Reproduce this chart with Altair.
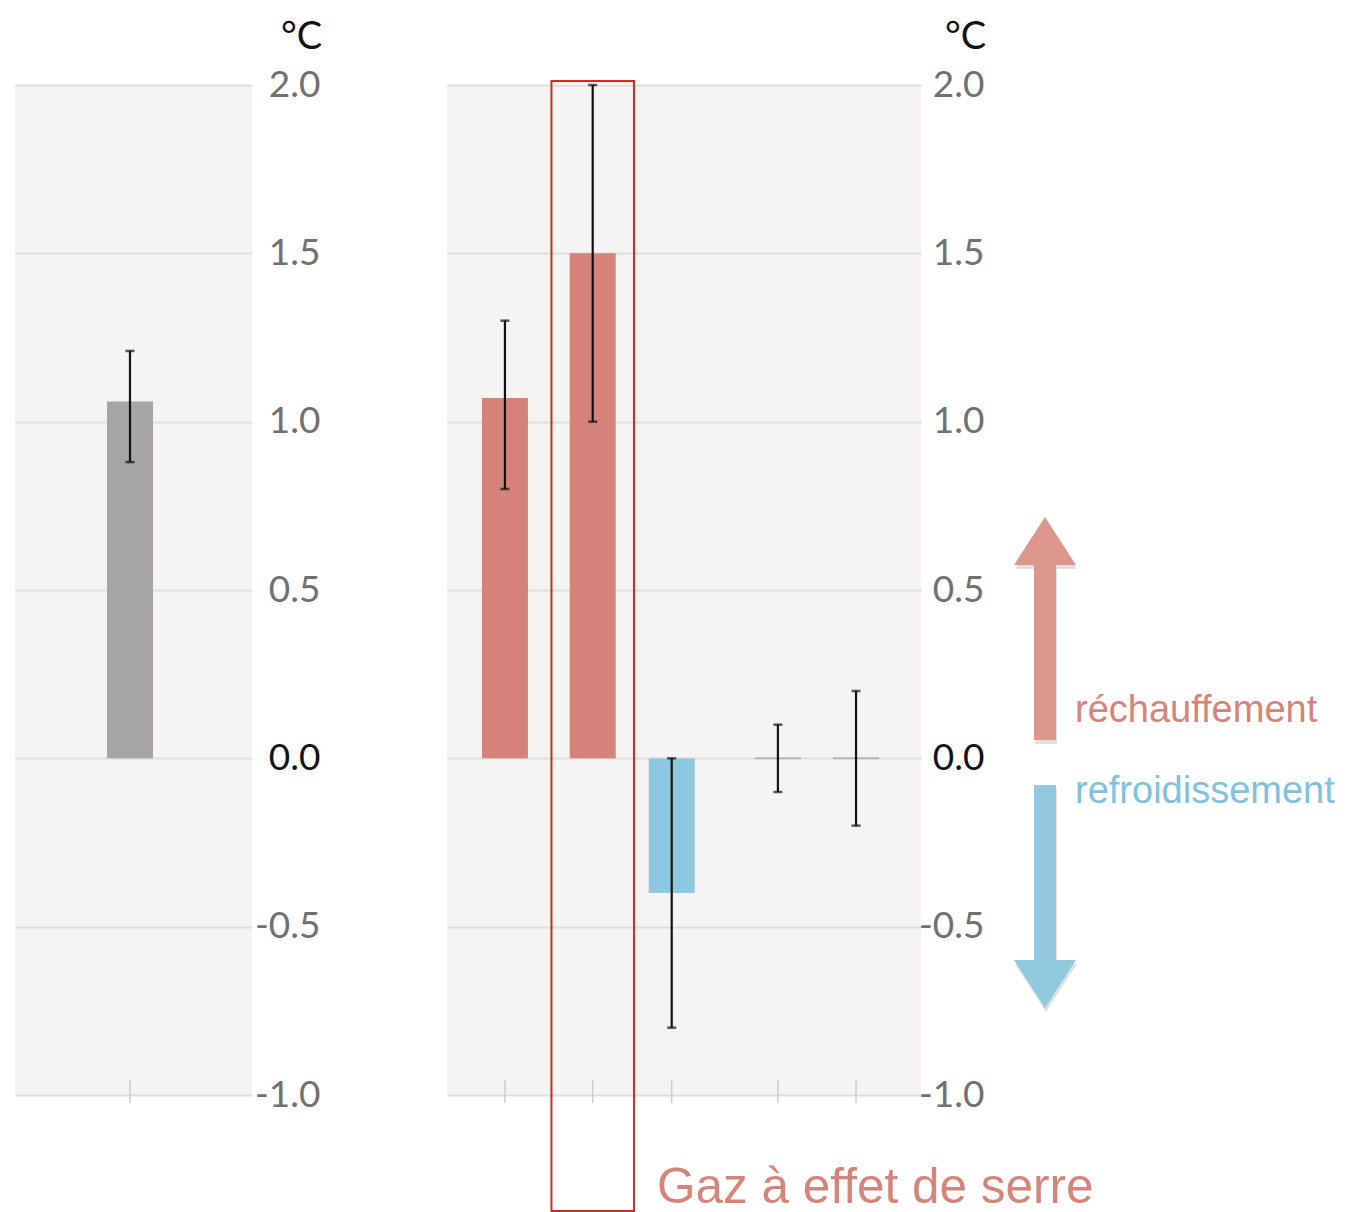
import altair as alt
import pandas as pd

# Observed warming, 2010-2019 vs 1850-1900 (left panel)
obs_label = ["Réchauffement observé"]
obs_value = [1.06]
obs_low = [0.88]
obs_high = [1.21]

# Contributions by driver (right panel)
drivers = [
    "Influence humaine totale",
    "Gaz à effet de serre",
    "Autres facteurs humains",
    "Facteurs naturels",
    "Variabilité interne",
]
driver_value = [1.07, 1.5, -0.4, 0.0, 0.0]
driver_low = [0.8, 1.0, -0.8, -0.1, -0.2]
driver_high = [1.3, 2.0, 0.0, 0.1, 0.2]

y_ticks = [-1.0, -0.5, 0.0, 0.5, 1.0, 1.5, 2.0]

# ---- layout / style ----
PLOT_H = 1010
LEFT_W, RIGHT_W = 237, 474
LEFT_DOMAIN, RIGHT_DOMAIN = [0, 2.70], [0, 5.40]
slot = {
    "Réchauffement observé": 1.31,
    "Influence humaine totale": 0.66,
    "Gaz à effet de serre": 1.66,
    "Autres facteurs humains": 2.56,
    "Facteurs naturels": 3.77,
    "Variabilité interne": 4.66,
}
bar_color = {
    "Réchauffement observé": "#a5a5a5",
    "Influence humaine totale": "#d4827a",
    "Gaz à effet de serre": "#d4827a",
    "Autres facteurs humains": "#8cc8e0",
    "Facteurs naturels": "#a5a5a5",
    "Variabilité interne": "#a5a5a5",
}
RED_TXT = "#d5847b"
BLUE_TXT = "#80c1dc"


def frame(names, vals, lows, highs):
    return pd.DataFrame({
        "name": names,
        "value": vals,
        "low": lows,
        "high": highs,
        "pos": [slot[n] for n in names],
    })


def y_axis(label_pad):
    return alt.Axis(
        orient="right",
        values=y_ticks,
        labelExpr="replace(format(datum.value, '.1f'), '\u2212', '-')",
        labelFont="Lato",
        labelFontSize=37,
        labelColor=alt.condition("datum.value == 0", alt.value("#111111"), alt.value("#707070")),
        labelAlign="right",
        labelBaseline="middle",
        labelPadding=label_pad,
        ticks=False,
        tickSize=0,
        domain=False,
        grid=True,
        gridColor="#dedede",
        gridWidth=2,
        title="°C",
        titleAngle=0,
        titleFont="Lato",
        titleFontSize=38,
        titleFontWeight="normal",
        titleColor="#111111",
        titleAlign="center",
        titleBaseline="alphabetic",
        titleX=label_pad - 19,
        titleY=-37,
    )


Y_SCALE = alt.Scale(domain=[-1, 2], nice=False, zero=False, padding=0)


def x_scale(domain):
    return alt.Scale(domain=domain, nice=False, zero=False, padding=0)


def panel(df, domain, label_pad):
    x = alt.X("pos:Q", scale=x_scale(domain), axis=None)
    ax = y_axis(label_pad)
    base = alt.Chart(df)

    def Y(field):
        return alt.Y(field, scale=Y_SCALE, axis=ax)

    bars = base.mark_bar(size=46, orient="vertical").encode(
        x=x,
        y=Y("value:Q"),
        y2=alt.datum(0),
        color=alt.Color("name:N", scale=alt.Scale(domain=list(bar_color), range=list(bar_color.values())), legend=None),
    )
    zero_bars = base.transform_filter("datum.value == 0").mark_tick(
        orient="horizontal", size=46, thickness=2, color="#a3a3a3"
    ).encode(x=x, y=Y("value:Q"))
    err = base.mark_rule(color="#111111", strokeWidth=2.2).encode(
        x=x, y=Y("low:Q"), y2="high:Q"
    )
    cap_lo = base.mark_tick(orient="horizontal", size=9, thickness=2.5, color="#111111").encode(
        x=x, y=Y("low:Q")
    )
    cap_hi = base.mark_tick(orient="horizontal", size=9, thickness=2.5, color="#111111").encode(
        x=x, y=Y("high:Q")
    )
    xticks = base.mark_rule(color="#cccccc", strokeWidth=1.5).encode(
        x=x, y=alt.value(PLOT_H - 15), y2=alt.value(PLOT_H + 8)
    )
    return [bars, zero_bars, xticks, err, cap_lo, cap_hi]


left_df = frame(obs_label, obs_value, obs_low, obs_high)
right_df = frame(drivers, driver_value, driver_low, driver_high)

left = alt.layer(*panel(left_df, LEFT_DOMAIN, 68)).properties(width=LEFT_W, height=PLOT_H)

right_layers = panel(right_df, RIGHT_DOMAIN, 63)

# Highlight box around the greenhouse-gas column
ghg = right_df[right_df["name"] == "Gaz à effet de serre"]
box = alt.Chart(ghg).transform_calculate(
    lo="datum.pos - 0.47", hi="datum.pos + 0.47"
).mark_rect(fillOpacity=0, stroke="#d42a1c", strokeWidth=2).encode(
    x=alt.X("lo:Q", scale=x_scale(RIGHT_DOMAIN), axis=None),
    x2="hi:Q",
    y=alt.value(-4),
    y2=alt.value(1126),
)
ghg_text = alt.Chart(ghg).mark_text(
    text="Gaz à effet de serre", font="Liberation Sans", fontSize=49.5,
    color=RED_TXT, align="left", baseline="alphabetic"
).encode(x=alt.value(210), y=alt.value(1118))

# Warming / cooling arrows
UP = "M0,-3.6L1,-2.05L0.355,-2.05L0.355,3.6L-0.355,3.6L-0.355,-2.05L-1,-2.05Z"
DOWN = "M0,3.6L1,2.05L0.355,2.05L0.355,-3.6L-0.355,-3.6L-0.355,2.05L-1,2.05Z"
one = pd.DataFrame({"k": [0]})


def arrow(path, color, cy):
    shadow = alt.Chart(one).mark_point(
        shape=path, filled=True, size=3844, color="#000000", opacity=0.12, strokeWidth=0
    ).encode(x=alt.value(599), y=alt.value(cy + 4))
    body = alt.Chart(one).mark_point(
        shape=path, filled=True, size=3844, color=color, opacity=1, strokeWidth=0
    ).encode(x=alt.value(598), y=alt.value(cy))
    return [shadow, body]


warm_txt = alt.Chart(one).mark_text(
    text="réchauffement", font="Liberation Sans", fontSize=38,
    color=RED_TXT, align="left", baseline="alphabetic"
).encode(x=alt.value(628), y=alt.value(637))
cool_txt = alt.Chart(one).mark_text(
    text="refroidissement", font="Liberation Sans", fontSize=38,
    color=BLUE_TXT, align="left", baseline="alphabetic"
).encode(x=alt.value(628), y=alt.value(718))

right = alt.layer(
    *right_layers,
    box,
    ghg_text,
    *arrow(UP, "#dd968c", 543.5),
    *arrow(DOWN, "#92c9de", 811.5),
    warm_txt,
    cool_txt,
).properties(width=RIGHT_W, height=PLOT_H)

chart = alt.hconcat(left, right, spacing=125).properties(
    padding={"left": 15, "top": 18, "right": 5, "bottom": 0},
    background="white",
).configure_view(fill="#f5f4f2", stroke=None)

chart.save("out.html", embed_options={"renderer": "svg", "actions": False})
